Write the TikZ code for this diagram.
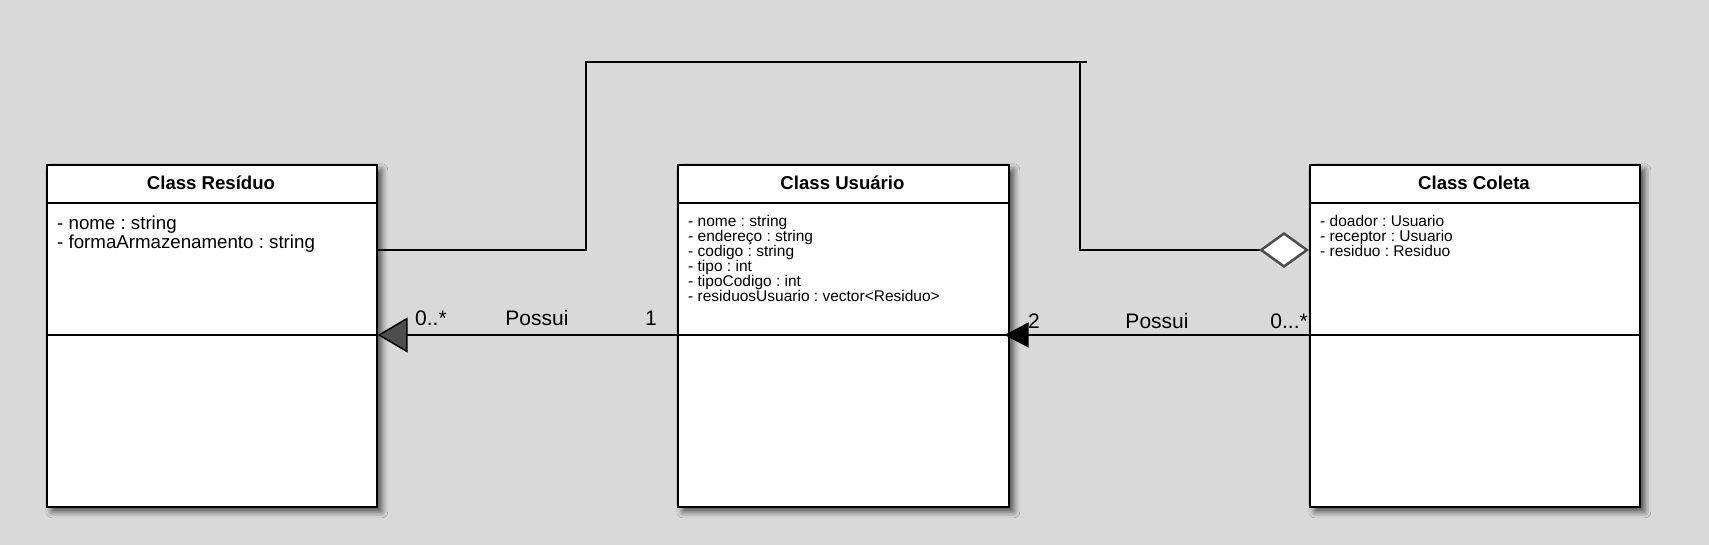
\documentclass[tikz,border=0pt]{standalone}
\usepackage{fontspec}
\setmainfont{Liberation Sans}
\usetikzlibrary{arrows.meta,shadows,shadows.blur}
\definecolor{bg}{HTML}{D9D9D9}
\definecolor{tipgray}{HTML}{4D4D4D}
\frenchspacing
\begin{document}
\begin{tikzpicture}[x=1pt,y=-1pt,
  classbox/.style={draw=black, line width=1.6pt, fill=white, anchor=north west,
    minimum width=#1, minimum height=342pt, inner sep=0pt,
    blur shadow={shadow xshift=5pt,shadow yshift=-5pt,shadow blur radius=6pt,shadow opacity=65}},
  sepline/.style={draw=black, line width=1.6pt},
  ctitle/.style={inner sep=0pt, font=\fontsize{18.6pt}{22pt}\selectfont\bfseries},
  attr/.style={inner sep=0pt, anchor=base west},
  assoc/.style={draw=black, line width=1.5pt, line join=miter},
  lbl/.style={inner sep=0pt, font=\fontsize{21pt}{24pt}\selectfont}
]
\fill[bg] (0,0) rectangle (1709,545);
\useasboundingbox (0,0) rectangle (1709,545);

% class boxes
\node[classbox=330pt] (res) at (46,164) {};
\node[classbox=331pt] (usu) at (677,164) {};
\node[classbox=330pt] (col) at (1309,164) {};

\coordinate (h) at (0,203);
\coordinate (s) at (0,335);
\foreach \c in {res,usu,col}{
  \draw[sepline] (\c.west |- h) -- (\c.east |- h);
  \draw[sepline] (\c.west |- s) -- (\c.east |- s);
}

% titles
\node[ctitle] (resT) at (211,183) {Class Resíduo};
\node[ctitle] (usuT) at (842.5,183) {Class Usuário};
\node[ctitle] (colT) at (1474,183) {Class Coleta};

% attributes
\node[attr] (resA) at (57,230) {\parbox[t]{310pt}{\fontsize{18.7pt}{19pt}\selectfont\raggedright
  - nome : string\\
  - formaArmazenamento : string}};
\node[attr] (usuA) at (688,227) {\parbox[t]{310pt}{\fontsize{15.5pt}{15pt}\selectfont\raggedright
  - nome : string\\
  - endereço : string\\
  - codigo : string\\
  - tipo : int\\
  - tipoCodigo : int\\
  - residuosUsuario : vector<Residuo>}};
\node[attr] (colA) at (1320,227) {\parbox[t]{310pt}{\fontsize{15.5pt}{15pt}\selectfont\raggedright
  - doador : Usuario\\
  - receptor : Usuario\\
  - residuo : Residuo}};

% association Usuario -> Residuo
\draw[assoc, -{Triangle[length=30pt,width=35pt,fill=tipgray]}] (usu.west |- s) -- (res.east |- s);
\node[lbl, anchor=base west] (m1) at (415,326) {0..*};
\node[lbl, anchor=base] (p1) at (537,326) {Possui};
\node[lbl, anchor=base] (n1) at (651,326) {1};

% association Coleta -> Usuario
\draw[assoc, shorten >=-5pt, -{Triangle[length=24pt,width=25pt]}] (col.west |- s) -- (usu.east |- s);
\node[lbl, anchor=base west] (m2) at (1028,329) {2};
\node[lbl, anchor=base] (p2) at (1157,329) {Possui};
\node[lbl, anchor=base east] (n2) at (1308,329) {0...*};

% aggregation Residuo -> Coleta
\coordinate (a) at (0,250);
\coordinate (top) at (0,62);
\coordinate (v1) at (586,0);
\coordinate (v2) at (1080,0);
\draw[assoc, -{Diamond[length=50pt,width=36pt,fill=white,color=tipgray,line width=2.5pt]}]
  (res.east |- a) -- (v1 |- a) -- (v1 |- top) -- (v2 |- top) -- (v2 |- a) -- (col.west |- a);
\draw[assoc] (v2 |- top) -- ++(7,0);
\end{tikzpicture}
\end{document}
